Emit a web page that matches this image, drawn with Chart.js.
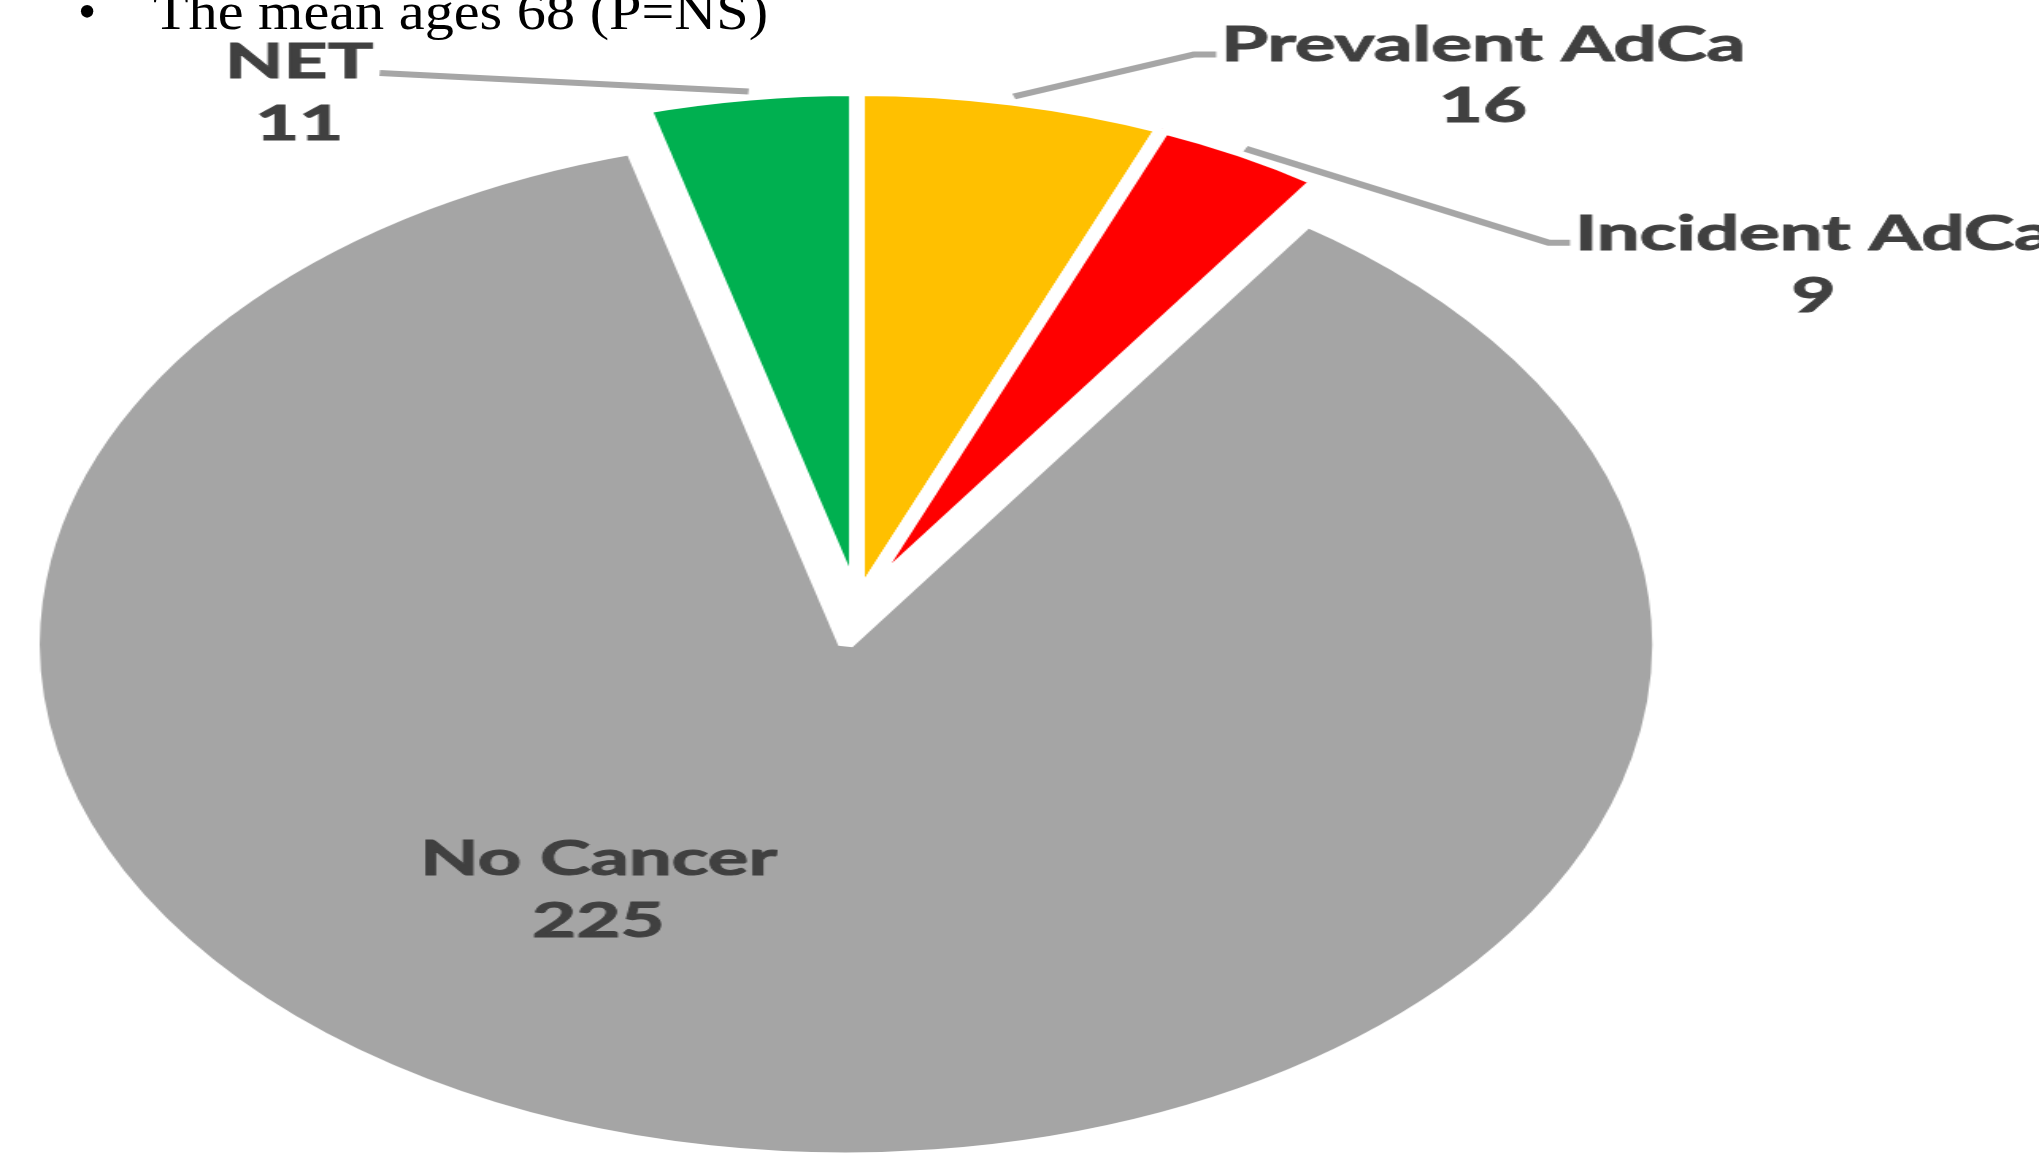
<!DOCTYPE html>
<html>
<head>
<meta charset="utf-8">
<script src="https://cdn.jsdelivr.net/npm/chart.js@4"></script>
<style>
  html, body { margin: 0; padding: 0; background: #ffffff; overflow: hidden; width: 2039px; height: 1153px; }
  #stage { position: absolute; left: 0; top: 0; width: 1285px; height: 1153px; transform-origin: 0 0; transform: scaleX(1.5868); }
  #note { position: absolute; left: 0; top: -14px; height: 52px; font-family: "Liberation Serif", "Times New Roman", serif; font-size: 52px; line-height: 52px; color: #000; white-space: nowrap; z-index: 2; }
  #note .bul { position: absolute; left: 78px; top: 0; }
  #note .txt { position: absolute; left: 153px; top: 0; transform-origin: 0 0; transform: scaleX(1.12); }
</style>
</head>
<body>
<div id="note"><span class="bul">•</span><span class="txt">The mean ages 68 (P=NS)</span></div>
<div id="stage"><canvas id="c"></canvas></div>
<script>
// ---- data ----
const categories = ["Prevalent AdCa", "Incident AdCa", "No Cancer", "NET"];
const counts = [16, 9, 225, 11];

// ---- styles ----
const sliceColors = ["#FFC000", "#FF0000", "#A5A5A5", "#00B050"];
const explode = [0, 0, 41, 0];
const labelFont = "bold 48px Lato, 'Noto Sans', sans-serif";
const labelColor = "#404040";
const leaderColor = "#A6A6A6";
// label placement relative to slice geometry
const labelLayout = [
  { ext: 4, dx: 113.5, dy: -42, hseg: 14, side: 1, gap: 3, b1: 6, b2: 67 },
  { ext: 4, dx: 191, dy: 94, hseg: 13.5, side: 1, gap: 3, b1: 7, b2: 69 },
  { inside: true, dx: -156, dy1: 231, dy2: 293 },
  { ext: 4, dx: -232.5, dy: -18.6, hseg: 0, side: -1, gap: 4, b1: 5, b2: 67 }
];

const explodePlugin = {
  id: 'explodeSlices',
  beforeDatasetDraw(chart, args) {
    const ctx = chart.ctx;
    args.meta.data.forEach((arc, i) => {
      const d = explode[i] || 0;
      const mid = (arc.startAngle + arc.endAngle) / 2;
      ctx.save();
      ctx.translate(Math.cos(mid) * d, Math.sin(mid) * d);
      arc.draw(ctx, chart.chartArea);
      ctx.restore();
    });
    return false;
  }
};

const labelPlugin = {
  id: 'sliceLabels',
  afterDraw(chart) {
    const ctx = chart.ctx;
    const meta = chart.getDatasetMeta(0);
    ctx.save();
    ctx.font = labelFont;
    ctx.fillStyle = labelColor;
    ctx.strokeStyle = labelColor;
    ctx.textAlign = 'center';
    ctx.textBaseline = 'alphabetic';
    const txt = (s, x, y) => { ctx.lineWidth = 1; ctx.strokeStyle = labelColor; ctx.fillText(s, x, y); ctx.strokeText(s, x, y); };
    meta.data.forEach((arc, i) => {
      const L = labelLayout[i];
      const mid = (arc.startAngle + arc.endAngle) / 2;
      const d = explode[i] || 0;
      const cx = arc.x + Math.cos(mid) * d;
      const cy = arc.y + Math.sin(mid) * d;
      const name = categories[i];
      const val = String(counts[i]);
      if (L.inside) {
        txt(name, cx + L.dx, cy + L.dy1);
        txt(val, cx + L.dx, cy + L.dy2);
        return;
      }
      const r = arc.outerRadius + L.ext;
      const sx = cx + Math.cos(mid) * r;
      const sy = cy + Math.sin(mid) * r;
      const ex = sx + L.dx, ey = sy + L.dy;
      const hx = ex + L.side * L.hseg;
      ctx.save();
      ctx.strokeStyle = leaderColor;
      ctx.lineWidth = 6;
      ctx.lineJoin = 'miter';
      ctx.beginPath();
      ctx.moveTo(sx, sy);
      ctx.lineTo(ex, ey);
      if (L.hseg) ctx.lineTo(hx, ey);
      ctx.stroke();
      ctx.restore();
      const w = ctx.measureText(name).width;
      const tcx = hx + L.side * (L.gap + w / 2);
      txt(name, tcx, ey + L.b1);
      txt(val, tcx, ey + L.b2);
    });
    ctx.restore();
  }
};

new Chart(document.getElementById('c'), {
  type: 'pie',
  data: {
    labels: categories,
    datasets: [{
      data: counts,
      backgroundColor: sliceColors,
      borderColor: '#FFFFFF',
      borderWidth: 10,
      radius: 513,
      clip: false
    }]
  },
  options: {
    responsive: true,
    maintainAspectRatio: false,
    animation: false,
    events: [],
    layout: { padding: { left: 0, right: 205, top: 55, bottom: 0 } },
    plugins: { legend: { display: false }, tooltip: { enabled: false } }
  },
  plugins: [explodePlugin, labelPlugin]
});
</script>
</body>
</html>
